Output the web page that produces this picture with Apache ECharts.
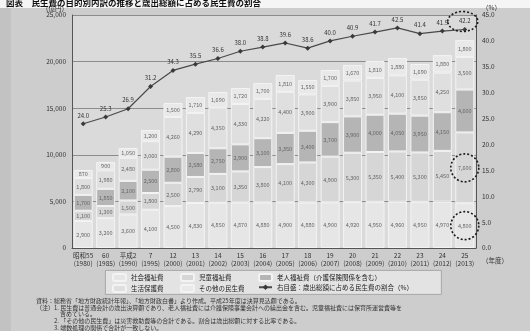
<!DOCTYPE html>
<html>
<head>
<meta charset="utf-8">
<script src="https://cdn.jsdelivr.net/npm/echarts@6/dist/echarts.min.js"></script>
<style>
  html, body { margin: 0; padding: 0; background: #cbcbcb; }
  #chart { width: 530px; height: 331px; }
</style>
</head>
<body>
<div id="chart"></div>
<script>
// 年度（上段：和暦、下段：西暦）
const years = ['昭和55', '60', '平成2', '7', '12', '13', '14', '15', '16', '17', '18', '19', '20', '21', '22', '23', '24', '25'];
const westernYears = ['(1980)', '(1985)', '(1990)', '(1995)', '(2000)', '(2001)', '(2002)', '(2003)', '(2004)', '(2005)', '(2006)', '(2007)', '(2008)', '(2009)', '(2010)', '(2011)', '(2012)', '(2013)'];

// 民生費の内訳（億円）
const socialWelfare = [2900, 3200, 3600, 4100, 4500, 4830, 4850, 4870, 4880, 4900, 4880, 4900, 4920, 4950, 4960, 4950, 4970, 4800];
const childWelfare = [1100, 1300, 1500, 1800, 2500, 2790, 3100, 3350, 3800, 4100, 4300, 4900, 5300, 5350, 5400, 5300, 5450, 7600];
const elderlyWelfare = [1700, 1850, 2100, 2500, 2800, 2580, 2750, 2900, 3100, 3350, 3400, 3700, 3900, 4000, 4050, 3950, 4150, 4600];
const publicAssistance = [1800, 1980, 2480, 3060, 4260, 4290, 4350, 4330, 4220, 4400, 3900, 3900, 3850, 3950, 4100, 3850, 4250, 3500];
const otherWelfare = [870, 900, 1050, 1200, 1500, 1710, 1690, 1720, 1700, 1810, 1550, 1700, 1670, 1810, 1880, 1690, 1880, 1800];

// 歳出総額に占める民生費の割合（%）
const shareRatio = [24.0, 25.3, 26.9, 31.2, 34.3, 35.5, 36.6, 38.0, 38.8, 39.6, 38.6, 40.0, 40.9, 41.7, 42.5, 41.4, 41.9, 42.2];

// 左目盛・右目盛
const leftTicks = { min: 0, max: 25000, interval: 5000 };
const rightTicks = { min: 0, max: 45, interval: 5 };

const FONT = '"Noto Sans CJK JP", "Noto Sans", sans-serif';
const chart = echarts.init(document.getElementById('chart'), null, { renderer: 'canvas' });

const fmt = v => v.toLocaleString('en-US');

function barSeries(name, data, color) {
  return {
    name: name,
    type: 'bar',
    stack: 'total',
    data: data,
    barWidth: 19,
    itemStyle: { color: color, borderColor: '#f3f3f3', borderWidth: 1 },
    label: {
      show: true,
      position: 'inside',
      fontSize: 5.5,
      fontFamily: FONT,
      color: '#666',
      formatter: p => fmt(p.value)
    },
    emphasis: { disabled: true }
  };
}

const legendText = { fontSize: 6.5, color: '#222', fontFamily: FONT };
const noteStyle = { fontSize: 6, fill: '#333', fontFamily: FONT };

const option = {
  animation: false,
  backgroundColor: '#cdcdcd',
  textStyle: { fontFamily: FONT },
  grid: {
    show: true,
    left: 72, right: 54, top: 15, bottom: 83,
    backgroundColor: '#dadada',
    borderWidth: 0
  },
  legend: [
    {
      left: 112, top: 273, orient: 'vertical', itemGap: 2, padding: 0,
      itemWidth: 13, itemHeight: 7, textStyle: legendText,
      data: ['社会福祉費', '生活保護費']
    },
    {
      left: 180, top: 273, orient: 'vertical', itemGap: 2, padding: 0,
      itemWidth: 13, itemHeight: 7, textStyle: legendText,
      data: ['児童福祉費', 'その他の民生費']
    },
    {
      left: 258, top: 273, orient: 'vertical', itemGap: 2, padding: 0,
      itemWidth: 13, itemHeight: 7, textStyle: legendText,
      data: ['老人福祉費（介護保険関係を含む）', '右目盛：歳出総額に占める民生費の割合（%）']
    }
  ],
  xAxis: {
    type: 'category',
    data: years,
    name: '（年度）',
    nameLocation: 'end',
    nameGap: 6,
    nameTextStyle: { fontSize: 6.5, color: '#333', verticalAlign: 'top', padding: [9, 0, 0, 0] },
    axisLine: { lineStyle: { color: '#555' } },
    axisTick: { show: false },
    axisLabel: {
      interval: 0,
      fontSize: 6.5,
      color: '#333',
      lineHeight: 8,
      margin: 4,
      formatter: (v, i) => v + '\n' + westernYears[i]
    }
  },
  yAxis: [
    {
      type: 'value',
      min: leftTicks.min, max: leftTicks.max, interval: leftTicks.interval,
      name: '（億円）',
      nameGap: 2,
      nameTextStyle: { fontSize: 6.5, color: '#333', align: 'right', padding: [0, 4, 0, 0] },
      axisLine: { show: true, lineStyle: { color: '#555' } },
      axisTick: { show: false },
      axisLabel: { fontSize: 6.5, color: '#333', margin: 6, formatter: v => fmt(v) },
      splitLine: { lineStyle: { color: '#8c8c8c', width: 1 } }
    },
    {
      type: 'value',
      min: rightTicks.min, max: rightTicks.max, interval: rightTicks.interval,
      name: '（%）',
      nameGap: 4,
      nameTextStyle: { fontSize: 6.5, color: '#333', align: 'left', padding: [0, 0, 0, 6] },
      axisLine: { show: true, lineStyle: { color: '#555' } },
      axisTick: { show: false },
      axisLabel: { fontSize: 6.5, color: '#333', margin: 6, formatter: v => v.toFixed(1) },
      splitLine: { show: false }
    }
  ],
  series: [
    barSeries('社会福祉費', socialWelfare, '#e6e6e6'),
    barSeries('児童福祉費', childWelfare, '#d6d6d6'),
    barSeries('老人福祉費（介護保険関係を含む）', elderlyWelfare, '#b5b5b5'),
    barSeries('生活保護費', publicAssistance, '#dfdfdf'),
    barSeries('その他の民生費', otherWelfare, '#e9e9e9'),
    {
      name: '右目盛：歳出総額に占める民生費の割合（%）',
      type: 'line',
      yAxisIndex: 1,
      data: shareRatio,
      symbol: 'diamond',
      symbolSize: 5,
      lineStyle: { color: '#4a4a4a', width: 1.2 },
      itemStyle: { color: '#3a3a3a' },
      label: {
        show: true,
        position: 'top',
        distance: 3,
        fontSize: 6,
        color: '#333',
        fontFamily: FONT,
        formatter: p => p.value.toFixed(1)
      },
      emphasis: { disabled: true },
      z: 5
    }
  ],
  graphic: [
    { id: 'leftStrip', type: 'rect', left: 0, top: 0, z: -10, shape: { width: 11, height: 331 }, style: { fill: '#c2c2c2' } },
    { id: 'topBand', type: 'rect', left: 0, top: 0, z: -9, shape: { width: 530, height: 8 }, style: { fill: '#f5f5f5' } },
    {
      id: 'title', type: 'text', left: 6, top: -1, z: 10,
      style: { text: '図表　民生費の目的別内訳の推移と歳出総額に占める民生費の割合', fontSize: 8.5, fontWeight: 'bold', fill: '#111', fontFamily: FONT }
    },
    { id: 'legendBox', type: 'rect', left: 105, top: 270, z: -1, shape: { width: 336, height: 24 }, style: { fill: '#e3e3e3', stroke: '#9a9a9a', lineWidth: 0.8 } },
    { id: 'note0', type: 'text', left: 36, top: 298, style: Object.assign({ text: '資料：総務省「地方財政統計年報」、「地方財政白書」より作成。平成25年度は決算見込額である。' }, noteStyle) },
    { id: 'note1', type: 'text', left: 36, top: 305, style: Object.assign({ text: '（注）1. 民生費は普通会計の歳出決算額であり、老人福祉費には介護保険事業会計への繰出金を含む。児童福祉費には保育所運営費等を' }, noteStyle) },
    { id: 'note2', type: 'text', left: 60, top: 311, style: Object.assign({ text: '含めている。' }, noteStyle) },
    { id: 'note3', type: 'text', left: 36, top: 318, style: Object.assign({ text: '　　　2. 「その他の民生費」は災害救助費等の合計である。割合は歳出総額に対する比率である。' }, noteStyle) },
    { id: 'note4', type: 'text', left: 36, top: 325, style: Object.assign({ text: '　　　3. 端数処理の関係で合計が一致しない。' }, noteStyle) }
  ]
};

chart.setOption(option);

// 最新年度の値を点線の円で強調する
const last = years.length - 1;
const pLine = chart.convertToPixel({ seriesIndex: 5 }, [last, shareRatio[last]]);
const pSocial = chart.convertToPixel({ seriesIndex: 0 }, [last, socialWelfare[last] / 2]);
const pChild = chart.convertToPixel({ seriesIndex: 0 }, [last, socialWelfare[last] + childWelfare[last] / 2]);
const ringStyle = { fill: null, stroke: '#1a1a1a', lineWidth: 1.6, lineDash: [2, 2] };
chart.setOption({
  graphic: [
    { id: 'ringLine', type: 'ellipse', z: 20, shape: { cx: pLine[0] - 2, cy: pLine[1] - 8, rx: 15, ry: 10 }, style: ringStyle },
    { id: 'ringChild', type: 'circle', z: 20, shape: { cx: pChild[0], cy: pChild[1], r: 14 }, style: ringStyle },
    { id: 'ringSocial', type: 'circle', z: 20, shape: { cx: pSocial[0], cy: pSocial[1], r: 14 }, style: ringStyle }
  ]
});
</script>
</body>
</html>
